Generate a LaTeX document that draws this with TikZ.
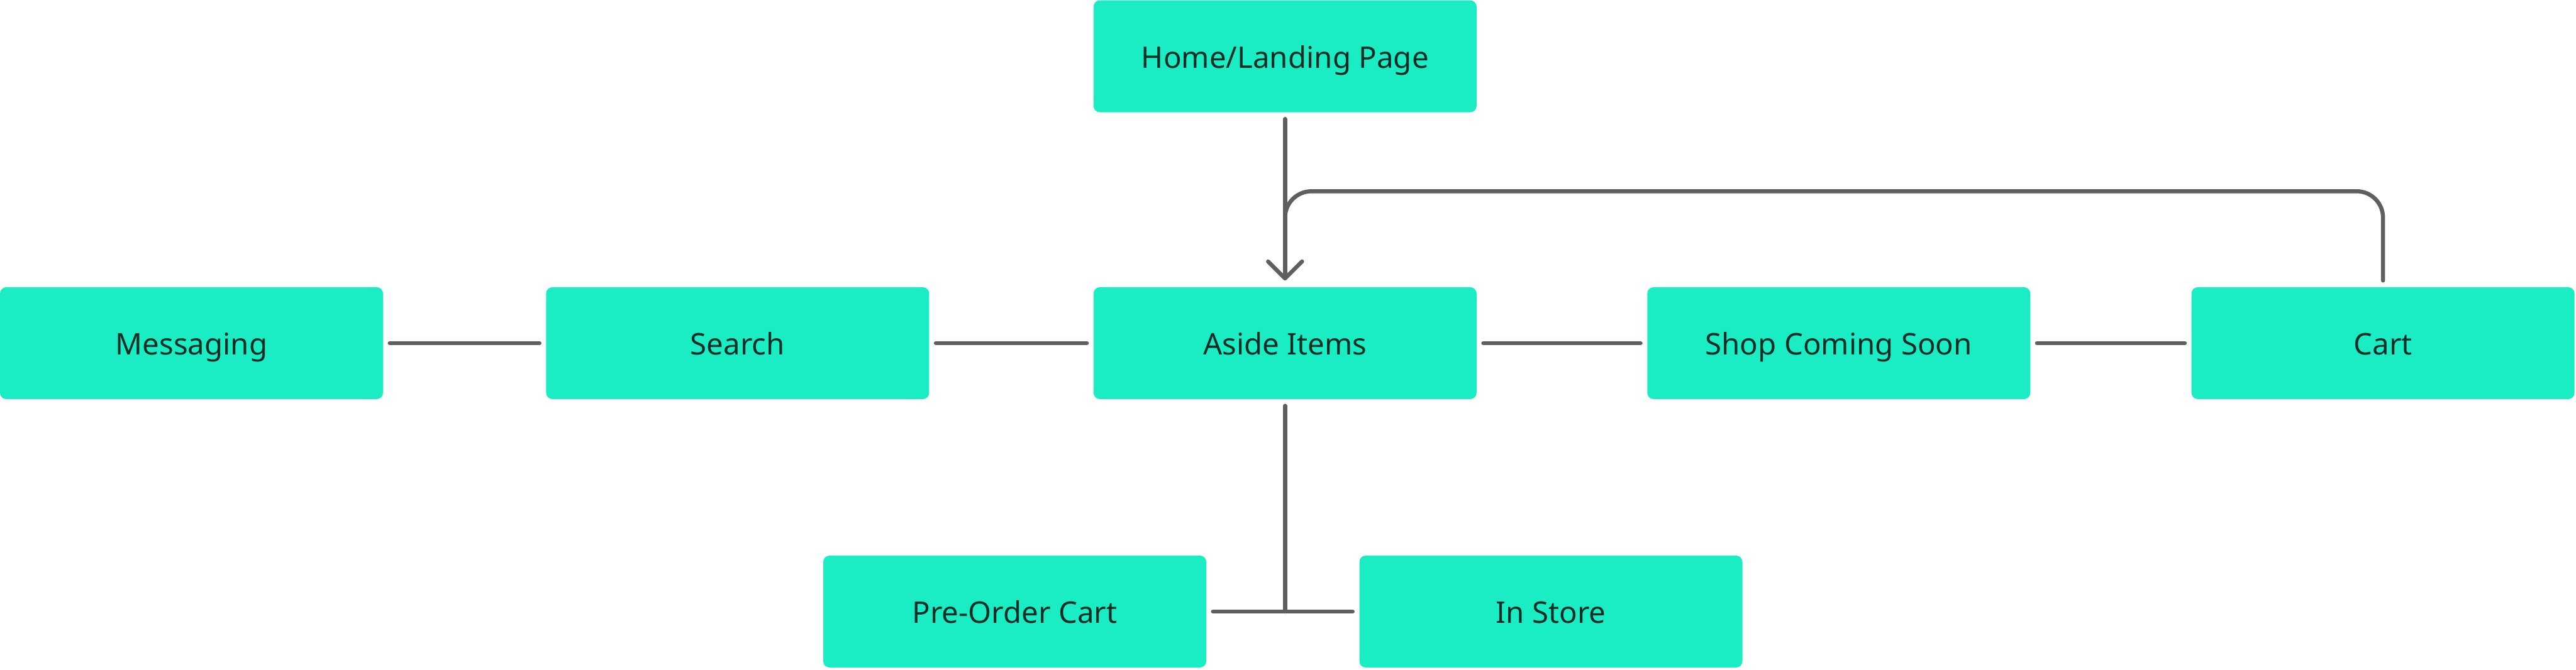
\documentclass[tikz,border=0pt]{standalone}
\usepackage{fontspec}
\setmainfont{Noto Sans}
\usetikzlibrary{arrows.meta, positioning, calc}
\definecolor{sfmint}{HTML}{1AEDC3}
\definecolor{sfink}{HTML}{0B2E26}
\definecolor{sfline}{HTML}{5F5F5F}

\begin{document}
\begin{tikzpicture}[
    page/.style={rectangle, rounded corners=0.1cm, fill=sfmint, draw=none,
                 minimum width=6.09cm, minimum height=1.78cm, inner sep=0pt,
                 text height=1.05em, text depth=0pt,
                 align=center, text=sfink, font=\fontsize{13.5}{16}\selectfont},
    link/.style={line width=0.065cm, sfline, line cap=round, line join=round,
                 shorten <=0.1cm, shorten >=0.1cm}
  ]
    \useasboundingbox (0,0) rectangle (40.96,-10.66);

    \node[page] (msg) at (3.045,-5.46) {Messaging};
    \node[page, right=2.58cm of msg] (search) {Search};
    \node[page, right=2.6cm of search] (aside) {Aside Items};
    \node[page, right=2.7cm of aside] (shop) {Shop Coming Soon};
    \node[page, right=2.55cm of shop] (cart) {Cart};
    \node[page, above=2.77cm of aside] (home) {Home/Landing Page};
    \node[page] (pre) at (16.135,-9.73) {Pre-Order Cart};
    \node[page] (store) at (24.66,-9.73) {In Store};

    % main row
    \draw[link] (msg) -- (search);
    \draw[link] (search) -- (aside);
    \draw[link] (aside) -- (shop);
    \draw[link] (shop) -- (cart);

    % entry and return from cart
    \draw[link, -{Straight Barb[length=0.27cm, width=0.54cm, round]}] (home) -- (aside);
    \draw[link, shorten >=0pt, rounded corners=0.42cm] (cart.north) |- ($(home.south)+(0,-1.25)$) -- ($(home.south)+(0,-2.1)$);

    % split below
    \draw[link, shorten >=0pt] (aside.south) -- (aside.south |- pre.east);
    \draw[link] (pre) -- (store);
\end{tikzpicture}
\end{document}
